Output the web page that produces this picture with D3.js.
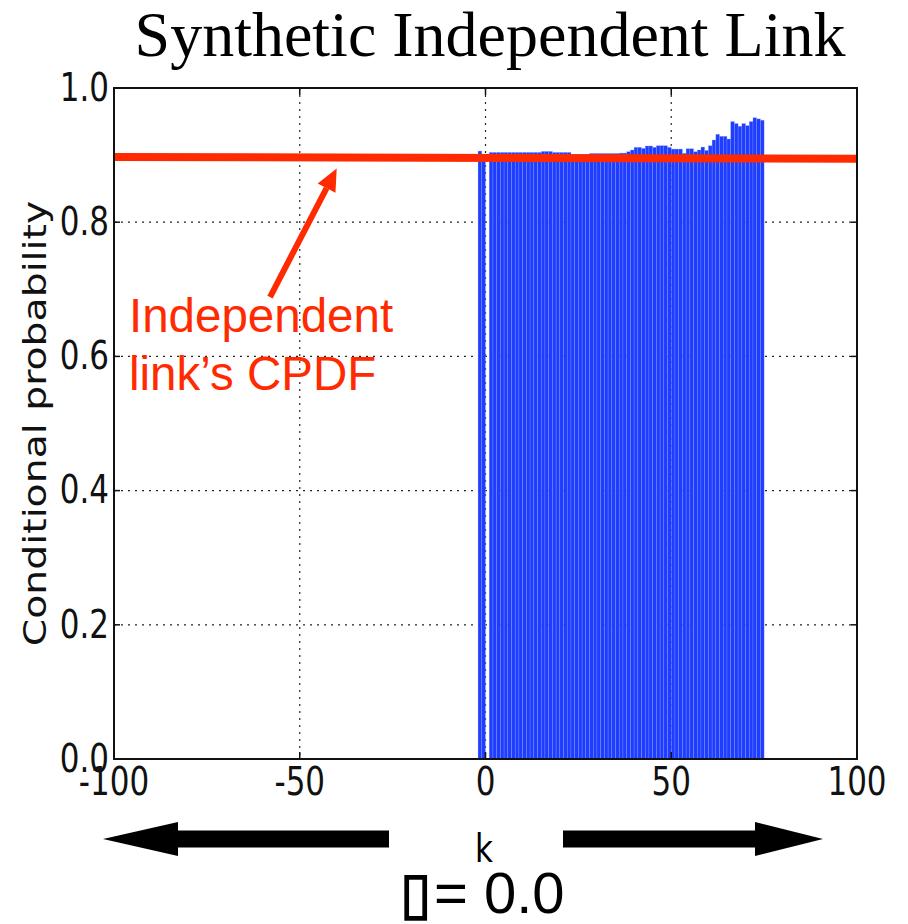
<!DOCTYPE html>
<html>
<head>
<meta charset="utf-8">
<script src="https://cdn.jsdelivr.net/npm/d3@7/dist/d3.min.js"></script>
<style>
  html, body { margin: 0; padding: 0; background: #fff; }
  svg { display: block; }
</style>
</head>
<body>
<svg id="chart" width="908" height="924"></svg>
<script>
// Lag k of each bar (k = 0 has no observations)
const kValues = [
  -2, -1,
  1, 2, 3, 4, 5, 6, 7, 8, 9, 10,
  11, 12, 13, 14, 15, 16, 17, 18, 19, 20,
  21, 22, 23, 24, 25, 26, 27, 28, 29, 30,
  31, 32, 33, 34, 35, 36, 37, 38, 39, 40,
  41, 42, 43, 44, 45, 46, 47, 48, 49, 50,
  51, 52, 53, 54, 55, 56, 57, 58, 59, 60,
  61, 62, 63, 64, 65, 66, 67, 68, 69, 70,
  71, 72, 73, 74
];
// Conditional probability measured at each lag
const probValues = [
  0.906, 0.893,
  0.904, 0.904, 0.904, 0.904, 0.904, 0.904, 0.904, 0.904, 0.904, 0.904,
  0.904, 0.904, 0.904, 0.904, 0.9055, 0.9055, 0.9055, 0.904, 0.904, 0.904,
  0.904, 0.904, 0.901, 0.901, 0.901, 0.901, 0.901, 0.9025, 0.9025, 0.9025,
  0.9025, 0.9025, 0.9025, 0.9025, 0.9025, 0.903, 0.903, 0.905, 0.9076, 0.9116,
  0.9116, 0.910, 0.9136, 0.9136, 0.9116, 0.914, 0.914, 0.914, 0.9116, 0.909,
  0.909, 0.909, 0.9027, 0.9095, 0.9095, 0.905, 0.9076, 0.912, 0.907, 0.914,
  0.9225, 0.931, 0.928, 0.928, 0.924, 0.950, 0.947, 0.943, 0.947, 0.944,
  0.950, 0.9557, 0.954, 0.952
];
// Independent link's CPDF, drawn across the whole k range
const cpdfK = [-100, 100];
const cpdfP = [0.8972, 0.8945];

const xTicks = [-100, -50, 0, 50, 100];
const xTickLabels = ["-100", "-50", "0", "50", "100"];
const yTicks = [0.0, 0.2, 0.4, 0.6, 0.8, 1.0];
const yTickLabels = ["0.0", "0.2", "0.4", "0.6", "0.8", "1.0"];

const titleText = "Synthetic Independent Link";
const xLabel = "k";
const yLabel = "Conditional probability";
const noteLines = ["Independent", "link\u2019s CPDF"];
const paramSymbol = "\u25AF";
const paramText = "= 0.0";

const svg = d3.select("#chart");
const plot = { left: 114, right: 857, top: 88, bottom: 759 };
const stretch = 1.25;           // axis text is drawn taller than wide
const axisFont = "'DejaVu Sans', sans-serif";
const red = "#ff2a00";

const x = d3.scaleLinear().domain([-100, 100]).range([plot.left, plot.right]);
const y = d3.scaleLinear().domain([0, 1]).range([plot.bottom, plot.top]);

// Title
svg.append("text")
  .attr("x", 490).attr("y", 56)
  .attr("text-anchor", "middle")
  .style("font-family", "'Liberation Serif', 'Times New Roman', serif")
  .style("font-size", "64px")
  .attr("fill", "#000")
  .text(titleText);

// Dotted grid
const grid = svg.append("g").attr("stroke", "#000").attr("stroke-width", 1.2)
  .attr("stroke-dasharray", "2,5").attr("opacity", 0.85);
grid.selectAll("line.gx").data(xTicks.slice(1, -1)).join("line")
  .attr("x1", d => x(d)).attr("x2", d => x(d))
  .attr("y1", plot.top).attr("y2", plot.bottom);
grid.selectAll("line.gy").data(yTicks.slice(1, -1)).join("line")
  .attr("x1", plot.left).attr("x2", plot.right)
  .attr("y1", d => y(d)).attr("y2", d => y(d));

// Bars, one unit wide starting at each k
const bars = kValues.map((k, i) => ({ k, p: probValues[i] }));
svg.append("g").selectAll("rect").data(bars).join("rect")
  .attr("x", d => x(d.k))
  .attr("width", d => x(d.k + 1) - x(d.k))
  .attr("y", d => y(d.p))
  .attr("height", d => y(0) - y(d.p))
  .attr("fill", "#1f3dff")
  .attr("stroke", "rgba(150,170,255,0.55)")
  .attr("stroke-width", 0.5);

// Reference CPDF line
const cpdf = cpdfK.map((k, i) => [k, cpdfP[i]]);
svg.append("path")
  .attr("d", d3.line().x(d => x(d[0])).y(d => y(d[1]))(cpdf))
  .attr("stroke", red).attr("stroke-width", 8).attr("fill", "none");

// Axis frame
svg.append("rect")
  .attr("x", plot.left).attr("y", plot.top)
  .attr("width", plot.right - plot.left).attr("height", plot.bottom - plot.top)
  .attr("fill", "none").attr("stroke", "#111").attr("stroke-width", 2);

// Inward tick marks on all sides
const ticks = svg.append("g").attr("stroke", "#111").attr("stroke-width", 1.5);
xTicks.forEach(t => {
  ticks.append("line").attr("x1", x(t)).attr("x2", x(t)).attr("y1", plot.bottom).attr("y2", plot.bottom - 7);
  ticks.append("line").attr("x1", x(t)).attr("x2", x(t)).attr("y1", plot.top).attr("y2", plot.top + 7);
});
yTicks.forEach(t => {
  ticks.append("line").attr("x1", plot.left).attr("x2", plot.left + 6).attr("y1", y(t)).attr("y2", y(t));
  ticks.append("line").attr("x1", plot.right).attr("x2", plot.right - 6).attr("y1", y(t)).attr("y2", y(t));
});

// Tick labels
svg.append("g").selectAll("text").data(xTicks).join("text")
  .attr("transform", d => `translate(${x(d)},${plot.bottom + 36}) scale(1,${stretch})`)
  .attr("text-anchor", "middle")
  .style("font-family", axisFont).style("font-size", "31px")
  .attr("fill", "#111")
  .text((d, i) => xTickLabels[i]);
svg.append("g").selectAll("text").data(yTicks).join("text")
  .attr("transform", d => `translate(${plot.left - 5},${y(d) + 12.7}) scale(1,${stretch})`)
  .attr("text-anchor", "end")
  .style("font-family", axisFont).style("font-size", "31px")
  .attr("fill", "#111")
  .text((d, i) => yTickLabels[i]);

// Axis titles
svg.append("text")
  .attr("transform", `translate(46,${(plot.top + plot.bottom) / 2}) scale(1,${stretch}) rotate(-90)`)
  .attr("text-anchor", "middle")
  .style("font-family", axisFont).style("font-size", "31.5px")
  .attr("fill", "#111")
  .text(yLabel);
svg.append("text")
  .attr("transform", `translate(484,862) scale(1,${stretch})`)
  .attr("text-anchor", "middle")
  .style("font-family", axisFont).style("font-size", "31px")
  .attr("fill", "#000")
  .text(xLabel);

// Annotation pointing at the CPDF line
const tip = [-40.05, 0.880];
const tail = [-58.0, 0.6885];
const tx = x(tip[0]), ty = y(tip[1]);
const sx = x(tail[0]), sy = y(tail[1]);
const ang = Math.atan2(ty - sy, tx - sx);
const headLen = 22, headHalf = 10;
const bx = tx - headLen * Math.cos(ang), by = ty - headLen * Math.sin(ang);
svg.append("line")
  .attr("x1", sx).attr("y1", sy).attr("x2", bx).attr("y2", by)
  .attr("stroke", red).attr("stroke-width", 6);
svg.append("path")
  .attr("d", `M${tx},${ty} L${bx + headHalf * Math.sin(ang)},${by - headHalf * Math.cos(ang)} L${bx - headHalf * Math.sin(ang)},${by + headHalf * Math.cos(ang)} Z`)
  .attr("fill", red);

svg.append("g").selectAll("text").data(noteLines).join("text")
  .attr("x", 129).attr("y", (d, i) => 332 + i * 58)
  .style("font-family", "'Liberation Sans', Arial, sans-serif")
  .style("font-size", "47.5px")
  .attr("fill", red)
  .text(d => d);

// Direction arrows below the axis
function blockArrow(x0, headX, tipX, cy) {
  const sh = 8.5, hh = 17;
  return `M${x0},${cy - sh} L${headX},${cy - sh} L${headX},${cy - hh} L${tipX},${cy} ` +
         `L${headX},${cy + hh} L${headX},${cy + sh} L${x0},${cy + sh} Z`;
}
svg.append("path").attr("d", blockArrow(389, 178, 103, 839)).attr("fill", "#000");
svg.append("path").attr("d", blockArrow(563, 755, 823, 839)).attr("fill", "#000");

// Parameter value
svg.append("text")
  .attr("x", 416).attr("y", 913)
  .attr("text-anchor", "middle")
  .style("font-family", axisFont).style("font-size", "58px")
  .attr("fill", "#000").attr("stroke", "#000").attr("stroke-width", 1.5)
  .text(paramSymbol);
svg.append("text")
  .attr("x", 434).attr("y", 913)
  .style("font-family", "'Liberation Sans', Arial, sans-serif")
  .style("font-size", "58px")
  .attr("fill", "#000")
  .text(paramText);
</script>
</body>
</html>
